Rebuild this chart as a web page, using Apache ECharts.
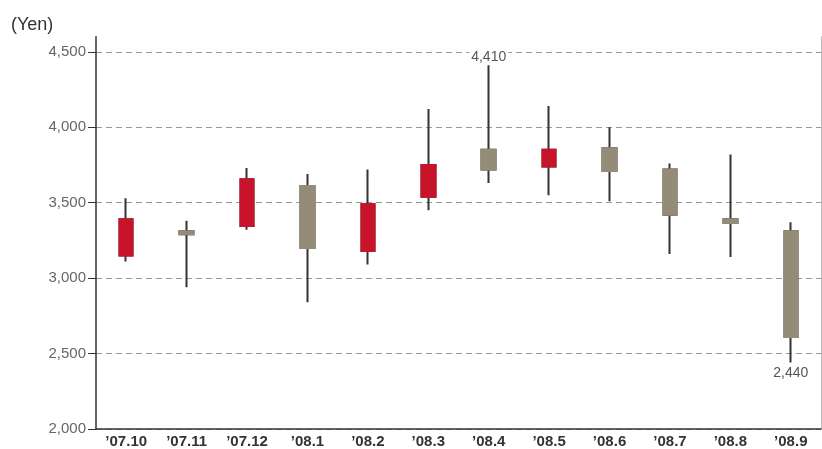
<!DOCTYPE html>
<html>
<head>
<meta charset="utf-8">
<script src="https://cdn.jsdelivr.net/npm/echarts@6/dist/echarts.min.js"></script>
<style>
html,body{margin:0;padding:0;background:#fff;}
#chart{width:822px;height:449px;}
</style>
</head>
<body>
<div id="chart"></div>
<script>
// Monthly stock price (Yen)
var categories = ["\u201907.10","\u201907.11","\u201907.12","\u201908.1","\u201908.2","\u201908.3","\u201908.4","\u201908.5","\u201908.6","\u201908.7","\u201908.8","\u201908.9"];
var openValues  = [3150, 3310, 3345, 3610, 3180, 3540, 3850, 3740, 3860, 3720, 3390, 3310];
var closeValues = [3390, 3290, 3655, 3200, 3490, 3750, 3720, 3850, 3710, 3420, 3365, 2610];
var lowValues   = [3110, 2940, 3320, 2840, 3090, 3450, 3630, 3550, 3510, 3160, 3140, 2440];
var highValues  = [3530, 3380, 3730, 3690, 3720, 4120, 4410, 4140, 4000, 3760, 3820, 3370];
var yTicks = [2000, 2500, 3000, 3500, 4000, 4500];

var fullData = categories.map(function (c, i) {
  return [openValues[i], closeValues[i], lowValues[i], highValues[i]];
});
var bodyData = categories.map(function (c, i) {
  var o = openValues[i], cl = closeValues[i];
  return [o, cl, Math.min(o, cl), Math.max(o, cl)];
});

var UP = '#c8142b', DOWN = '#958c78', WICK = '#333333';
var fmt = function (v) { return Number(v).toLocaleString('en-US'); };

var chart = echarts.init(document.getElementById('chart'));
chart.setOption({
  animation: false,
  backgroundColor: '#fff',
  title: {
    text: '(Yen)', left: 6, top: 11,
    textStyle: { fontFamily: 'Liberation Sans', fontSize: 18, fontWeight: 'normal', color: '#333' }
  },
  grid: { left: 96, right: 1, top: 36.7, bottom: 19.7, containLabel: false },
  xAxis: {
    type: 'category', data: categories, boundaryGap: true,
    axisLine: { lineStyle: { color: '#333', width: 1.5 } },
    axisTick: { show: false },
    axisLabel: { color: '#333', fontFamily: 'Liberation Sans', fontSize: 15, fontWeight: 'bold', margin: 5 },
    splitLine: { show: false }
  },
  yAxis: [{
    type: 'value', min: 2000, max: 4600, interval: 500, position: 'left',
    axisLine: { show: true, lineStyle: { color: '#333', width: 1.5 } },
    axisTick: { show: true, length: 8, customValues: yTicks, lineStyle: { color: '#333', width: 1 } },
    axisLabel: { customValues: yTicks, color: '#666', fontFamily: 'Liberation Sans', fontSize: 15, margin: 10, formatter: fmt },
    splitLine: { show: true, lineStyle: { color: '#999', type: [6, 4], width: 1 } }
  }, {
    type: 'value', min: 2000, max: 4600, interval: 500, position: 'right',
    axisLine: { show: true, lineStyle: { color: '#bbb', width: 1 } },
    axisTick: { show: false }, axisLabel: { show: false }, splitLine: { show: false }
  }],
  series: [{
    type: 'candlestick', name: 'wick', data: fullData, barWidth: 14, yAxisIndex: 0,
    itemStyle: { color: WICK, color0: WICK, borderColor: WICK, borderColor0: WICK, borderWidth: 2 },
    markPoint: {
      symbol: 'circle', symbolSize: 1, itemStyle: { color: 'rgba(0,0,0,0)' },
      label: { show: true, color: '#555', fontFamily: 'Liberation Sans', fontSize: 14, backgroundColor: '#fff', padding: [0, 2], formatter: function (p) { return fmt(p.value); } },
      data: [
        { type: 'max', valueDim: 'highest', label: { position: 'top', distance: 1 } },
        { type: 'min', valueDim: 'lowest', label: { position: 'bottom', distance: 3 } }
      ]
    }
  }, {
    type: 'candlestick', name: 'body', data: bodyData, barWidth: 14, yAxisIndex: 0,
    itemStyle: { color: UP, color0: DOWN, borderColor: UP, borderColor0: DOWN, borderWidth: 2 }
  }]
});
</script>
</body>
</html>
